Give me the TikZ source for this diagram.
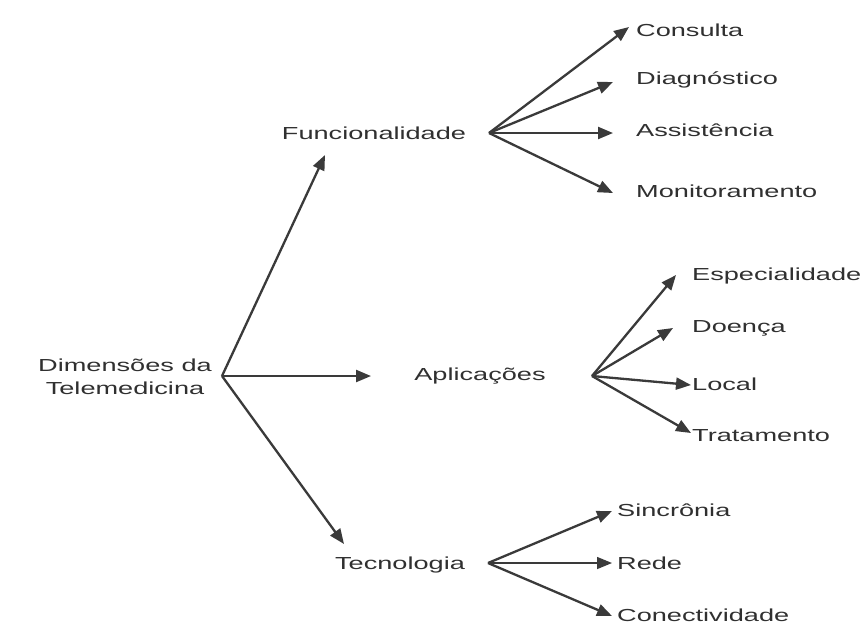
\documentclass[tikz,border=0pt]{standalone}
\usepackage{fontspec}
\setmainfont{Liberation Sans}[FakeStretch=1.56]
\usetikzlibrary{arrows.meta}
\definecolor{txt}{HTML}{303030}
\definecolor{ln}{HTML}{3a3a3a}
\begin{document}
\begin{tikzpicture}[x=1pt,y=-1pt,
  lbl/.style={font=\fontsize{17.4}{23}\selectfont, text=txt, inner sep=0pt},
  leaf/.style={lbl, anchor=west},
  conn/.style={draw=ln, line width=2.3pt, -{Triangle[length=15pt,width=12pt]}}]
\useasboundingbox[fill=white] (0,0) rectangle (866,633);
% main nodes
\node[lbl, align=center] (root) at (125,377) {Dimensões da\\Telemedicina};
\node[lbl] (func) at (374,133) {Funcionalidade};
\node[lbl] (apl) at (480,376) {Aplicações};
\node[lbl] (tec) at (400,565) {Tecnologia};
% leaves
\node[leaf] (cons) at (636,30) {Consulta};
\node[leaf] (diag) at (636,80) {Diagnóstico};
\node[leaf] (assi) at (636,130) {Assistência};
\node[leaf] (moni) at (636,191) {Monitoramento};
\node[leaf] (espe) at (692,276) {Especialidade};
\node[leaf] (doen) at (692,328) {Doença};
\node[leaf] (loca) at (692,384) {Local};
\node[leaf] (trat) at (692,436) {Tratamento};
\node[leaf] (sinc) at (617,510) {Sincrônia};
\node[leaf] (rede) at (617,563) {Rede};
\node[leaf] (conx) at (617,615) {Conectividade};
% branch points and arrow tips
\coordinate (rb) at (222,376);
\coordinate (fb) at (489,133);
\coordinate (ab) at (592,376);
\coordinate (tb) at (488,563);
\coordinate (tfunc) at (325,155);
\coordinate (tapl) at (371,376);
\coordinate (ttec) at (344,544);
\coordinate (tcons) at (629,27);
\coordinate (tdiag) at (613,82);
\coordinate (tassi) at (613,133);
\coordinate (tmoni) at (613,193);
\coordinate (tespe) at (676,275);
\coordinate (tdoen) at (673,328);
\coordinate (tloca) at (691,385);
\coordinate (ttrat) at (691,433);
\coordinate (tsinc) at (612,511);
\coordinate (trede) at (612,563);
\coordinate (tconx) at (612,616);
% connectors
\draw[conn] (rb) -- (tfunc);
\draw[conn] (rb) -- (tapl);
\draw[conn] (rb) -- (ttec);
\draw[conn] (fb) -- (tcons);
\draw[conn] (fb) -- (tdiag);
\draw[conn] (fb) -- (tassi);
\draw[conn] (fb) -- (tmoni);
\draw[conn] (ab) -- (tespe);
\draw[conn] (ab) -- (tdoen);
\draw[conn] (ab) -- (tloca);
\draw[conn] (ab) -- (ttrat);
\draw[conn] (tb) -- (tsinc);
\draw[conn, line width=1.4pt] (tb) -- (trede);
\draw[conn] (tb) -- (tconx);
\end{tikzpicture}
\end{document}
